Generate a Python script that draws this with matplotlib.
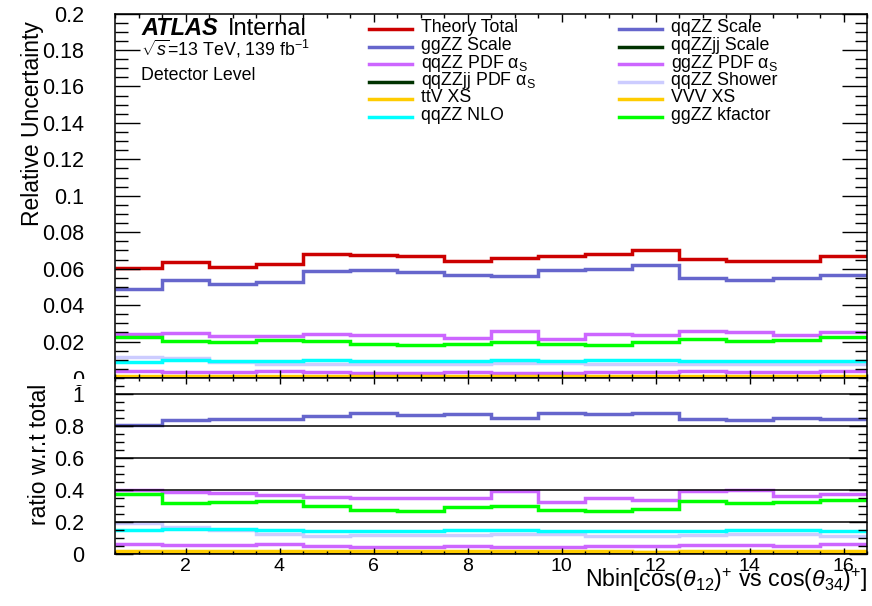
import numpy as np
import matplotlib
matplotlib.use('Agg')
import matplotlib.pyplot as plt
from matplotlib.lines import Line2D
from matplotlib.patches import Rectangle
from matplotlib.ticker import MultipleLocator, FuncFormatter, FixedLocator

plt.rcParams['font.family'] = ['Liberation Sans', 'DejaVu Sans']
plt.rcParams['mathtext.fontset'] = 'custom'
plt.rcParams['mathtext.rm'] = 'Liberation Sans'
plt.rcParams['mathtext.it'] = 'Liberation Sans:italic'
plt.rcParams['mathtext.bf'] = 'Liberation Sans:bold'

# ---------------- data ----------------
bin_edges = np.arange(0.5, 17.0, 1.0)   # 16 bins: 0.5 ... 16.5

theory_total = [0.0605, 0.0639, 0.0610, 0.0625, 0.0680, 0.0677, 0.0672, 0.0643,
                0.0661, 0.0672, 0.0683, 0.0703, 0.0654, 0.0641, 0.0643, 0.0670]
ggzz_scale = [0.0487, 0.0535, 0.0515, 0.0527, 0.0588, 0.0595, 0.0584, 0.0564,
              0.0560, 0.0592, 0.0598, 0.0619, 0.0550, 0.0538, 0.0548, 0.0566]
qqzz_pdf = [0.0240, 0.0245, 0.0233, 0.0230, 0.0240, 0.0236, 0.0236, 0.0222,
            0.0258, 0.0216, 0.0240, 0.0236, 0.0256, 0.0255, 0.0234, 0.0251]
qqzzjj_pdf = [0.0, 0.0, 0.0, 0.0, 0.0, 0.0, 0.0, 0.0,
              0.0, 0.0, 0.0, 0.0, 0.0, 0.0, 0.0, 0.0]
ttv_xs = [0.0009, 0.0009, 0.0009, 0.0009, 0.0009, 0.0009, 0.0009, 0.0009,
          0.0009, 0.0009, 0.0009, 0.0009, 0.0009, 0.0009, 0.0009, 0.0009]
qqzz_nlo = [0.0090, 0.0098, 0.0094, 0.0091, 0.0097, 0.0096, 0.0095, 0.0095,
            0.0098, 0.0095, 0.0097, 0.0100, 0.0092, 0.0096, 0.0096, 0.0095]
qqzz_scale = [0.0, 0.0, 0.0, 0.0, 0.0, 0.0, 0.0, 0.0,
              0.0, 0.0, 0.0, 0.0, 0.0, 0.0, 0.0, 0.0]
qqzzjj_scale = [0.0, 0.0, 0.0, 0.0, 0.0, 0.0, 0.0, 0.0,
                0.0, 0.0, 0.0, 0.0, 0.0, 0.0, 0.0, 0.0]
ggzz_pdf = [0.0036, 0.0033, 0.0032, 0.0036, 0.0034, 0.0029, 0.0029, 0.0031,
            0.0028, 0.0029, 0.0031, 0.0032, 0.0036, 0.0034, 0.0032, 0.0040]
qqzz_shower = [0.0115, 0.0108, 0.0089, 0.0078, 0.0076, 0.0079, 0.0079, 0.0075,
               0.0081, 0.0081, 0.0076, 0.0077, 0.0077, 0.0079, 0.0079, 0.0075]
vvv_xs = [0.0005, 0.0005, 0.0005, 0.0005, 0.0005, 0.0005, 0.0005, 0.0005,
          0.0005, 0.0005, 0.0005, 0.0005, 0.0005, 0.0005, 0.0005, 0.0005]
ggzz_kfactor = [0.0227, 0.0203, 0.0196, 0.0207, 0.0203, 0.0185, 0.0180, 0.0189,
                0.0198, 0.0185, 0.0183, 0.0198, 0.0216, 0.0203, 0.0207, 0.0225]

x_ticks = [2, 4, 6, 8, 10, 12, 14, 16]

# legend columns (ROOT fills row-wise; we draw col1 / col2 explicitly)
col1 = [
    ('Theory Total', theory_total, '#cc0000'),
    ('ggZZ Scale', ggzz_scale, '#6666cc'),
    ('qqZZ PDF α$_{\\mathrm{S}}$', qqzz_pdf, '#cc66ff'),
    ('qqZZjj PDF α$_{\\mathrm{S}}$', qqzzjj_pdf, '#003300'),
    ('ttV XS', ttv_xs, '#ffcc00'),
    ('qqZZ NLO', qqzz_nlo, '#00ffff'),
]
col2 = [
    ('qqZZ Scale', qqzz_scale, '#6666cc'),
    ('qqZZjj Scale', qqzzjj_scale, '#003300'),
    ('ggZZ PDF α$_{\\mathrm{S}}$', ggzz_pdf, '#cc66ff'),
    ('qqZZ Shower', qqzz_shower, '#ccccff'),
    ('VVV XS', vvv_xs, '#ffcc00'),
    ('ggZZ kfactor', ggzz_kfactor, '#00ff00'),
]

# ---------------- figure ----------------
W, H = 872, 606
fig = plt.figure(figsize=(W / 100, H / 100), dpi=100)


def fx(px):
    return px / W


def fy(py):
    return 1 - py / H


x0, x1 = 115, 867
ax_top = fig.add_axes([fx(x0), fy(378), fx(x1) - fx(x0), fy(13.5) - fy(378)])
ax_bot = fig.add_axes([fx(x0), fy(553.6), fx(x1) - fx(x0), fy(378) - fy(553.6)])

lw = 2.5
draw_order = [col2[1], col1[3], col2[0], col1[0], col1[1], col1[2], col2[2],
              col2[3], col1[5], col2[5], col1[4], col2[4]]
total = np.array(theory_total)
for name, vals, c in draw_order:
    v = np.array(vals)
    ax_top.stairs(v, bin_edges, baseline=None, color=c, lw=lw)
    if name != 'Theory Total':
        ax_bot.stairs(v / total, bin_edges, baseline=None, color=c, lw=lw)

fmt = FuncFormatter(lambda v, p: f'{v:g}')

for ax in (ax_top, ax_bot):
    ax.set_xlim(0.5, 16.5)
    ax.xaxis.set_major_locator(FixedLocator(x_ticks))
    ax.xaxis.set_minor_locator(MultipleLocator(0.5))
    for s in ax.spines.values():
        s.set_linewidth(1.1)
    ax.yaxis.set_major_formatter(fmt)

ax_top.set_ylim(0, 0.2)
ax_top.yaxis.set_major_locator(MultipleLocator(0.02))
ax_top.yaxis.set_minor_locator(MultipleLocator(0.005))
ax_top.tick_params(axis='y', which='major', direction='in', length=18, width=1,
                   left=True, right=True, labelsize=15.5, pad=22)
ax_top.tick_params(axis='y', which='minor', direction='in', length=9, width=1,
                   left=True, right=True)
ax_top.tick_params(axis='x', which='major', direction='in', length=6, width=1,
                   top=True, bottom=True, labelbottom=False)
ax_top.tick_params(axis='x', which='minor', direction='in', length=3, width=1,
                   top=True, bottom=True)

ax_bot.set_ylim(0, 1.1)
ax_bot.yaxis.set_major_locator(MultipleLocator(0.2))
ax_bot.yaxis.set_minor_locator(MultipleLocator(0.05))
ax_bot.grid(axis='y', which='major', color='black', lw=1.1)
ax_bot.set_axisbelow(False)
ax_bot.tick_params(axis='y', which='major', direction='in', length=13, width=1,
                   left=True, right=True, labelsize=15.5, pad=22)
ax_bot.tick_params(axis='y', which='minor', direction='in', length=6.5, width=1,
                   left=True, right=True)
ax_bot.tick_params(axis='x', which='major', direction='in', length=4, width=1,
                   top=True, bottom=True, labelsize=14, pad=3.5)
ax_bot.tick_params(axis='x', which='minor', direction='in', length=2, width=1,
                   top=True, bottom=True)

# mask lower half of the top-panel "0" label (pads share a boundary in ROOT)
fig.add_artist(Rectangle((0, fy(385)), fx(112), fy(378.5) - fy(385),
                         transform=fig.transFigure, facecolor='white',
                         edgecolor='none', zorder=1))

# axis titles
fig.text(fx(33), fy(124), 'Relative Uncertainty', rotation=90, ha='center',
         va='center', fontsize=16.5)
fig.text(fx(40), fy(454), 'ratio w.r.t total', rotation=90, ha='center',
         va='center', fontsize=16.5)
fig.text(fx(868), fy(587),
         r'Nbin[cos($\theta_{12}$)$^{+}$ vs cos($\theta_{34}$)$^{+}$]',
         ha='right', va='baseline', fontsize=16.7)

# ATLAS label
fig.text(fx(141), fy(35), 'ATLAS', fontsize=17, fontweight='bold',
         fontstyle='italic', va='baseline', ha='left')
fig.text(fx(228), fy(35), 'Internal', fontsize=17, va='baseline', ha='left')
fig.text(fx(141), fy(55), r'$\sqrt{s}$=13 TeV, 139 fb$^{-1}$', fontsize=12.8,
         va='baseline', ha='left')
fig.text(fx(141), fy(80), 'Detector Level', fontsize=12.8, va='baseline', ha='left')

# legend (two columns, ROOT style)
row_y = [29, 46.5, 64, 81.5, 99, 116.5]
for col, (lx0, lx1, tx) in zip((col1, col2), ((369, 412, 421), (619, 662, 671))):
    for (name, vals, c), yy in zip(col, row_y):
        fig.add_artist(Line2D([fx(lx0), fx(lx1)], [fy(yy), fy(yy)], color=c,
                              lw=lw, transform=fig.transFigure))
        fig.text(fx(tx), fy(yy + 3.5), name, fontsize=12.8, va='baseline',
                 ha='left')

fig.savefig('out.png', dpi=100)
